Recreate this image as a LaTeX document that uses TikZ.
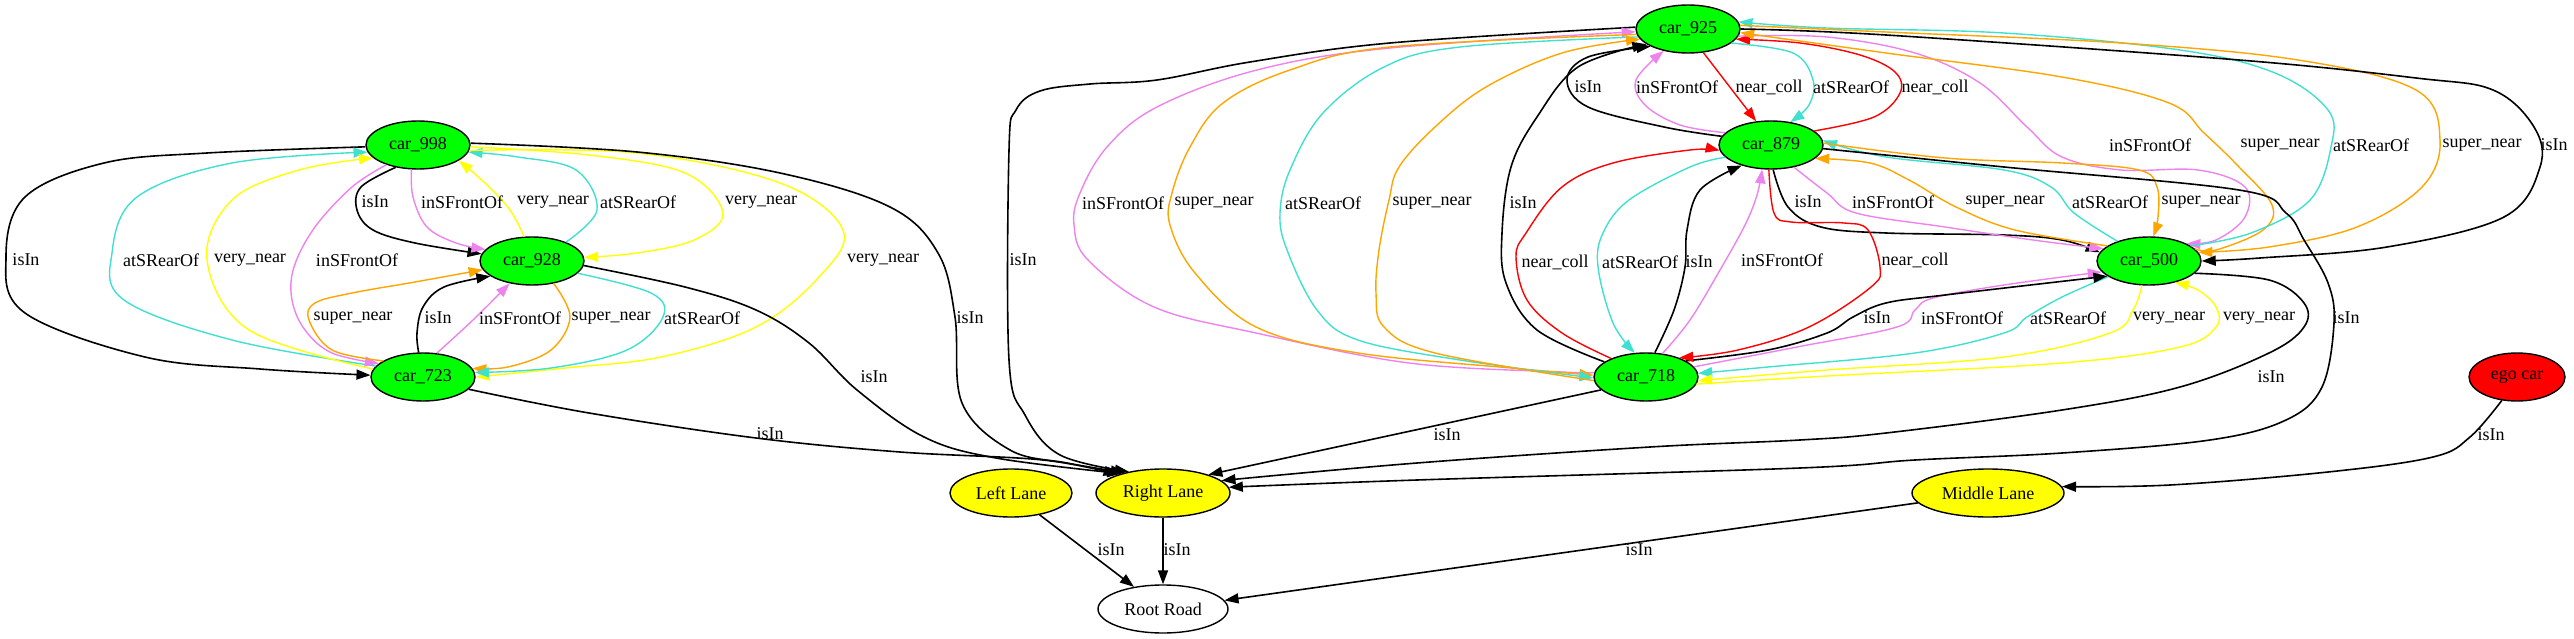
\documentclass[tikz,border=0pt]{standalone}
\usepackage{fontspec}
\setmainfont{Liberation Serif}
\usetikzlibrary{arrows.meta,shapes.geometric}
\definecolor{gvgreen}{RGB}{0,255,0}
\definecolor{gvyellow}{RGB}{255,255,0}
\definecolor{gvred}{RGB}{255,0,0}
\definecolor{gvturq}{RGB}{64,224,208}
\definecolor{gvviolet}{RGB}{238,130,238}
\definecolor{gvorange}{RGB}{255,165,0}
\tikzset{
  every node/.style={font=\fontsize{18}{20}\selectfont},
  nd/.style={ellipse, draw=black, line width=1.4pt, minimum height=48pt, inner sep=0pt},
  carn/.style={nd, fill=gvgreen, minimum width=104pt},
  lanen/.style={nd, fill=gvyellow},
  lab/.style={inner sep=0pt},
  ed/.style={line width=1.4pt, smooth, tension=0.6, -{Triangle[length=14pt,width=10pt]}},
  eb/.style={ed, draw=black, line width=1.6pt},
  ec/.style={ed, draw=gvturq},
  ev/.style={ed, draw=gvviolet},
  eo/.style={ed, draw=gvorange},
  ey/.style={ed, draw=gvyellow},
  er/.style={ed, draw=gvred}
}
\begin{document}
\begin{tikzpicture}[x=1pt,y=-1pt]
\useasboundingbox (0,0) rectangle (2574,639);
% nodes
\node[carn] (car925) at (1688,29) {car\_925};
\node[carn] (car998) at (418,145) {car\_998};
\node[carn] (car879) at (1771,145) {car\_879};
\node[carn] (car928) at (532,261) {car\_928};
\node[carn] (car500) at (2149,261) {car\_500};
\node[carn] (car723) at (423,377) {car\_723};
\node[carn] (car718) at (1646,377) {car\_718};
\node[nd, fill=gvred, minimum width=96pt] (ego) at (2517,377) {ego car};
\node[lanen, minimum width=122pt] (LL) at (1011,493) {Left Lane};
\node[lanen, minimum width=134pt] (RL) at (1163,493) {Right Lane};
\node[lanen, minimum width=152pt] (ML) at (1988,493) {Middle Lane};
\node[nd, fill=white, minimum width=130pt] (RR) at (1163,609) {Root Road};

% ---- left cluster ----
\draw[eb] plot coordinates {(car998.182) (207,153) (104,163) (25,197) (6,257) (25,313) (145,357) (260,369) (car723.178)};
\draw[ec] plot coordinates {(car723.167) (232,340) (124,300) (112,253) (137,197) (232,163) (car998.188)};
\draw[ey] plot coordinates {(car723.171) (249,330) (207,260) (232,200) (299,170) (car998.196)};
\draw[ev] plot coordinates {(car998.212) (352,187) (315,227) (294,267) (292,300) (305,330) (332,353) (car723.163)};
\draw[eb] plot coordinates {(car998.225) (361,187) (357,210) (373,230) (415,243) (car928.172)};
\draw[ev] plot coordinates {(car998.255) (413,197) (427,227) (456,243) (car928.166)};
\draw[ey] plot coordinates {(car928.108) (510,210) (485,183) (car998.339)};
\draw[ec] plot coordinates {(car928.29) (597,210) (576,170) (518,157) (car998.352)};
\draw[ey] plot coordinates {(car998.358) (589,155) (685,173) (723,213) (694,240) (637,253) (car928.4)};
\draw[ey] plot coordinates {(car998.354) (637,153) (780,183) (843,230) (819,277) (756,327) (661,357) (565,368) (car723.0)};
\draw[eb] plot coordinates {(car998.2) (637,152) (780,173) (890,207) (938,253) (955,317) (962,403) (1010,450) (1067,463) (RL.152)};
\draw[eo] plot coordinates {(car723.158) (332,350) (309,320) (315,303) (352,293) (415,282) (car928.190)};
\draw[eb] plot coordinates {(car723.100) (417,333) (423,307) (444,287) (car928.200)};
\draw[ev] plot coordinates {(car723.60) (473,320) (car928.225)};
\draw[eo] plot coordinates {(car928.314) (570,317) (551,350) (508,367) (car723.10)};
\draw[ec] plot coordinates {(car928.345) (651,293) (663,317) (627,350) (551,368) (car723.5)};
\draw[eb] plot coordinates {(car928.355) (685,287) (756,310) (809,343) (857,390) (924,437) (996,458) (RL.155)};
\draw[eb] plot coordinates {(car723.345) (589,413) (756,438) (900,452) (1043,460) (RL.158)};

% ---- right cluster ----
\draw[eb] plot coordinates {(car925.178) (1390,43) (1250,62) (1157,80) (1090,84) (1040,91) (1016,110) (1009,150) (1009,360) (1025,415) (1060,455) (RL.148)};
\draw[ev] plot coordinates {(car718.175) (1562,372) (1409,363) (1256,333) (1154,307) (1088,260) (1074,225) (1080,193) (1107,147) (1157,107) (1257,70) (1390,48) (car925.183)};
\draw[eo] plot coordinates {(car925.186) (1390,47) (1290,70) (1223,103) (1190,147) (1172,193) (1170,225) (1195,273) (1256,327) (1358,353) (1511,368) (car718.178)};
\draw[ec] plot coordinates {(car925.189) (1460,47) (1384,67) (1323,113) (1290,170) (1280,213) (1287,250) (1317,310) (1358,340) (1460,360) (car718.181)};
\draw[eo] plot coordinates {(car718.184) (1435,353) (1384,327) (1376,293) (1379,250) (1389,200) (1399,167) (1435,127) (1486,87) (1562,53) (car925.192)};
\draw[eb] plot coordinates {(car718.160) (1537,330) (1506,283) (1502,233) (1511,167) (1537,117) (1578,67) (car925.200)};
\draw[eb] plot coordinates {(car879.170) (1664,127) (1588,107) (1567,80) (1588,57) (car925.205)};
\draw[ev] plot coordinates {(car879.165) (1680,125) (1645,105) (1636,80) (car925.222)};
\draw[er] (car925.303) -- (car879.122);
\draw[er] plot coordinates {(car879.18) (1874,117) (1900,93) (1895,72) (1860,55) (1800,43) (car925.348)};
\draw[ec] plot coordinates {(car925.342) (1793,53) (1813,80) (1809,105) (car879.50)};
\draw[ev] plot coordinates {(car925.352) (1827,37) (1915,53) (1980,83) (2027,127) (2062,157) (2121,170) (2198,170) (2245,187) (2245,217) (2216,240) (car500.25)};
\draw[eo] plot coordinates {(car500.15) (2216,250) (2263,230) (2272,205) (2239,167) (2204,133) (2169,103) (2062,77) (1886,53) (car925.356)};
\draw[ec] plot coordinates {(car500.20) (2251,233) (2310,200) (2331,147) (2328,110) (2275,73) (2180,50) (2004,33) (1827,28) (car925.8)};
\draw[eo] plot coordinates {(car925.4) (1886,32) (2121,43) (2298,60) (2416,90) (2440,140) (2422,187) (2357,227) (2269,247) (car500.10)};
\draw[eb] plot coordinates {(car925.0) (1886,35) (2239,60) (2416,78) (2493,90) (2534,127) (2540,167) (2504,217) (2387,247) (2260,258) (car500.0)};
\draw[eb] plot coordinates {(car879.275) (1788,207) (1821,227) (1886,233) (2004,235) (2062,240) (car500.170)};
\draw[ev] plot coordinates {(car879.316) (1827,193) (1856,213) (1945,227) (2033,240) (car500.165)};
\draw[eo] plot coordinates {(car500.160) (2015,230) (1956,207) (1909,180) (1870,163) (car879.343)};
\draw[ec] plot coordinates {(car500.148) (2074,213) (2051,187) (2004,170) (1886,157) (car879.5)};
\draw[eo] plot coordinates {(car879.2) (1945,158) (2062,163) (2139,170) (2157,187) (2158,217) (car500.80)};
\draw[eb] plot coordinates {(car879.356) (2004,167) (2239,190) (2286,213) (2304,240) (2328,283) (2334,323) (2322,387) (2286,420) (2210,440) (2062,453) (1915,460) (1800,468) (1417,480) (RL.5)};
\draw[eb] plot coordinates {(car500.345) (2269,280) (2304,303) (2304,327) (2269,353) (2180,387) (2062,410) (1886,433) (1800,440) (1650,447) (1417,463) (RL.12)};
\draw[eb] (car718.196) -- (RL.22);
\draw[ec] plot coordinates {(car500.201) (2062,297) (2027,317) (2004,333) (1915,353) (1768,367) (car718.4)};
\draw[ev] plot coordinates {(car718.12) (1797,347) (1897,327) (1915,310) (1933,298) (2004,285) (car500.193)};
\draw[eb] plot coordinates {(car718.22) (1768,350) (1827,333) (1853,317) (1886,303) (1945,295) (car500.200)};
\draw[ey] plot coordinates {(car500.254) (2133,310) (2110,333) (2004,357) (1827,370) (car718.356)};
\draw[ey] plot coordinates {(car718.352) (1827,376) (2062,363) (2180,347) (2216,327) (2216,307) (2198,290) (car500.320)};
\draw[er] plot coordinates {(car879.265) (1774,213) (1791,222) (1844,223) (1868,230) (1880,267) (1871,287) (1809,327) (1738,350) (car718.30)};
\draw[er] plot coordinates {(car718.152) (1562,333) (1527,300) (1516,257) (1526,233) (1562,187) (1613,163) (1690,150) (car879.186)};
\draw[ec] plot coordinates {(car879.195) (1690,167) (1629,200) (1603,233) (1598,267) (1613,323) (car718.115)};
\draw[eb] plot coordinates {(car718.70) (1674,310) (1685,267) (1687,230) (1700,190) (car879.215)};
\draw[ev] plot coordinates {(car718.55) (1690,320) (1720,270) (1745,225) (1757,195) (car879.250)};
% lanes
\draw[eb] (LL) -- (RR);
\draw[eb] (RL) -- (RR);
\draw[eb] (ML) -- (RR);
\draw[eb] plot coordinates {(ego.237) (2470,437) (2433,457) (2328,472) (2170,485) (ML.5)};

% ---- labels ----
\node[lab] (t1) at (26,260) {isIn};
\node[lab] (t2) at (161,260) {atSRearOf};
\node[lab] (t3) at (250,260) {very\_near};
\node[lab] (t4) at (357,260) {inSFrontOf};
\node[lab] (t5) at (375,202) {isIn};
\node[lab] (t6) at (462,202) {inSFrontOf};
\node[lab] (t7) at (553,202) {very\_near};
\node[lab] (t8) at (638,202) {atSRearOf};
\node[lab] (t9) at (761,202) {very\_near};
\node[lab] (t10) at (883,260) {very\_near};
\node[lab] (t11) at (970,318) {isIn};
\node[lab] (t12) at (353,318) {super\_near};
\node[lab] (t13) at (438,318) {isIn};
\node[lab] (t14) at (520,318) {inSFrontOf};
\node[lab] (t15) at (611,318) {super\_near};
\node[lab] (t16) at (702,318) {atSRearOf};
\node[lab] (t17) at (874,377) {isIn};
\node[lab] (t18) at (770,434) {isIn};
\node[lab] (t19) at (1023,260) {isIn};
\node[lab] (t20) at (1123,203) {inSFrontOf};
\node[lab] (t21) at (1214,203) {super\_near};
\node[lab] (t22) at (1323,203) {atSRearOf};
\node[lab] (t23) at (1432,203) {super\_near};
\node[lab] (t24) at (1523,203) {isIn};
\node[lab] (t25) at (1588,87) {isIn};
\node[lab] (t26) at (1677,87) {inSFrontOf};
\node[lab] (t27) at (1769,87) {near\_coll};
\node[lab] (t28) at (1851,87) {atSRearOf};
\node[lab] (t29) at (1935,87) {near\_coll};
\node[lab] (t30) at (2150,145) {inSFrontOf};
\node[lab] (t31) at (2280,145) {super\_near};
\node[lab] (t32) at (2371,145) {atSRearOf};
\node[lab] (t33) at (2482,145) {super\_near};
\node[lab] (t34) at (2554,145) {isIn};
\node[lab] (t35) at (1808,202) {isIn};
\node[lab] (t36) at (1893,202) {inSFrontOf};
\node[lab] (t37) at (2005,202) {super\_near};
\node[lab] (t38) at (2110,202) {atSRearOf};
\node[lab] (t39) at (2201,202) {super\_near};
\node[lab] (t40) at (1555,262) {near\_coll};
\node[lab] (t41) at (1640,262) {atSRearOf};
\node[lab] (t42) at (1699,262) {isIn};
\node[lab] (t43) at (1782,260) {inSFrontOf};
\node[lab] (t44) at (1915,260) {near\_coll};
\node[lab] (t45) at (1877,318) {isIn};
\node[lab] (t46) at (1962,318) {inSFrontOf};
\node[lab] (t47) at (2068,318) {atSRearOf};
\node[lab] (t48) at (2169,318) {very\_near};
\node[lab] (t49) at (2259,318) {very\_near};
\node[lab] (t50) at (2346,318) {isIn};
\node[lab] (t51) at (2271,377) {isIn};
\node[lab] (t52) at (1447,435) {isIn};
\node[lab] (t53) at (2491,435) {isIn};
\node[lab] (t54) at (1111,550) {isIn};
\node[lab] (t55) at (1177,550) {isIn};
\node[lab] (t56) at (1639,550) {isIn};
\end{tikzpicture}
\end{document}
